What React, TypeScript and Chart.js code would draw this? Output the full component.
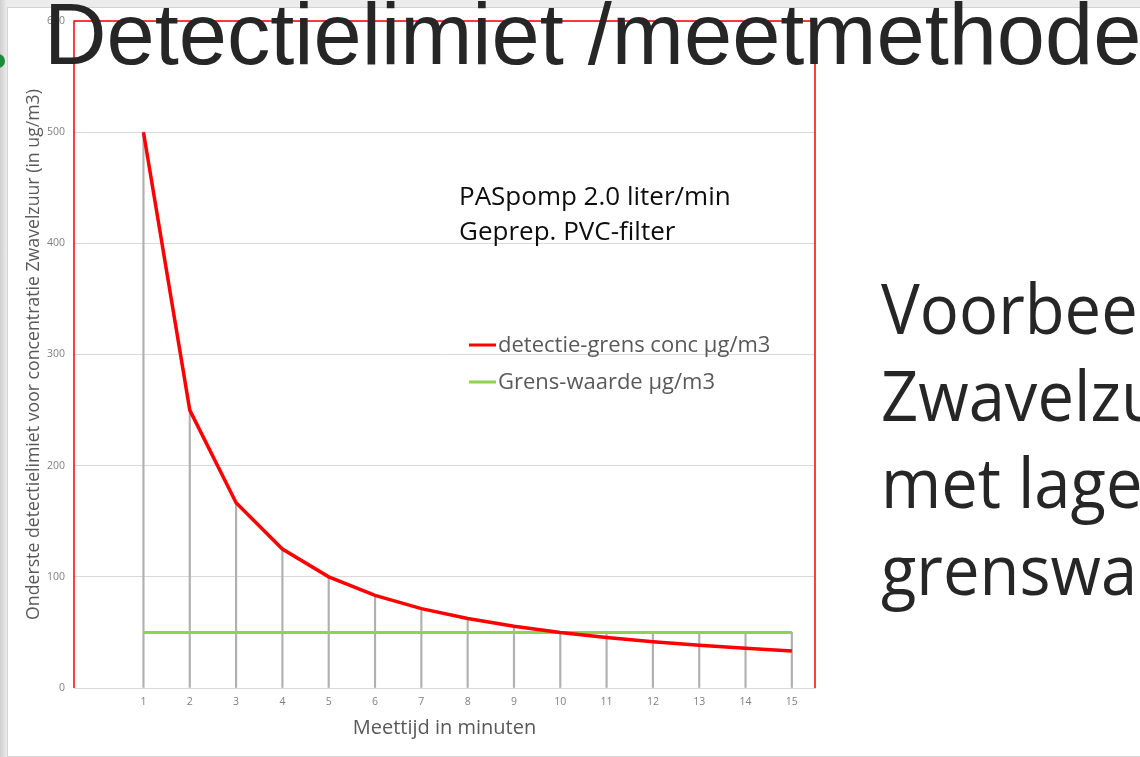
import React, { useEffect, useRef } from 'react';
import { Chart, registerables } from 'chart.js';

Chart.register(...registerables);

// ---- data ----
const minutes = [1, 2, 3, 4, 5, 6, 7, 8, 9, 10, 11, 12, 13, 14, 15];
const detectionLimit = [500, 250, 166.7, 125, 100, 83.3, 71.4, 62.5, 55.6, 50, 45.5, 41.7, 38.5, 35.7, 33.3];
const limitValue = [50, 50, 50, 50, 50, 50, 50, 50, 50, 50, 50, 50, 50, 50, 50];
const yTickValues = [0, 100, 200, 300, 400, 500, 600];
const seriesNames = ['detectie-grens conc µg/m3', 'Grens-waarde µg/m3'];
const chartNote = ['PASpomp 2.0 liter/min', 'Geprep. PVC-filter'];
const slideTitle = 'Detectielimiet /meetmethode';
const sideText = ['Voorbeeld', 'Zwavelzuur', 'met lage', 'grenswaarde'];
const xTitle = 'Meettijd in minuten';
const yTitle = 'Onderste detectielimiet voor concentratie Zwavelzuur (in ug/m3)';

const FONT = '"Open Sans", "Noto Sans", sans-serif';

const overlayPlugin = {
  id: 'overlay',
  afterDraw(chart: any) {
    const { ctx, chartArea: a } = chart;
    ctx.save();
    // red frame around plot area (left, top, right)
    ctx.strokeStyle = '#ff0000';
    ctx.lineWidth = 1.5;
    ctx.beginPath();
    ctx.moveTo(a.left, a.bottom);
    ctx.lineTo(a.left, a.top);
    ctx.lineTo(a.right, a.top);
    ctx.lineTo(a.right, a.bottom);
    ctx.stroke();

    // note text
    ctx.fillStyle = '#0d0d0d';
    ctx.font = `26px ${FONT}`;
    ctx.textBaseline = 'alphabetic';
    ctx.textAlign = 'left';
    chartNote.forEach((t, i) => ctx.fillText(t, a.left + 385, a.top + 184 + i * 35));

    // legend
    const lineSets = chart.data.datasets.filter((d: any) => d.type === 'line');
    ctx.font = `22px ${FONT}`;
    lineSets.forEach((d: any, i: number) => {
      const yMid = a.top + 324 + i * 37;
      ctx.strokeStyle = d.borderColor;
      ctx.lineWidth = 3;
      ctx.beginPath();
      ctx.moveTo(a.left + 395, yMid);
      ctx.lineTo(a.left + 422, yMid);
      ctx.stroke();
      ctx.fillStyle = '#595959';
      ctx.fillText(d.label, a.left + 424, yMid + 7);
    });
    ctx.restore();
  },
};

export default function App() {
  const canvasRef = useRef<HTMLCanvasElement | null>(null);

  useEffect(() => {
    const canvas = canvasRef.current;
    if (!canvas) return;
    const dropHeights = minutes.map((_, i) => Math.max(detectionLimit[i], limitValue[i]));
    const chart = new Chart(canvas, {
      type: 'line',
      data: {
        datasets: [
          {
            type: 'line',
            label: seriesNames[0],
            data: minutes.map((m, i) => ({ x: m, y: detectionLimit[i] })),
            borderColor: '#ff0000',
            backgroundColor: '#ff0000',
            borderWidth: 3.5,
            pointRadius: 0,
            tension: 0,
            order: 0,
          },
          {
            type: 'line',
            label: seriesNames[1],
            data: minutes.map((m, i) => ({ x: m, y: limitValue[i] })),
            borderColor: '#92d050',
            backgroundColor: '#92d050',
            borderWidth: 3,
            pointRadius: 0,
            tension: 0,
            order: 1,
          },
          {
            type: 'bar',
            label: 'drop',
            data: minutes.map((m, i) => ({ x: m, y: dropHeights[i] })),
            backgroundColor: '#b0b0b0',
            barThickness: 1.5,
            order: 2,
          } as any,
        ],
      },
      options: {
        responsive: false,
        animation: false,
        layout: { padding: { left: 19, top: 21, right: 325, bottom: 0 } },
        plugins: { legend: { display: false }, tooltip: { enabled: false } },
        scales: {
          x: {
            type: 'linear',
            min: -0.5,
            max: 15.5,
            offset: false,
            afterBuildTicks: (s: any) => {
              s.ticks = minutes.map((v) => ({ value: v }));
            },
            afterFit: (s: any) => {
              s.height = 69;
            },
            ticks: {
              autoSkip: false,
              maxRotation: 0,
              padding: 8,
              color: '#7f7f7f',
              font: { family: FONT, size: 10.5 },
              callback: (v: any) => String(v),
            },
            grid: { display: false, drawTicks: false },
            border: { display: true, color: '#d9d9d9', width: 1 },
            title: {
              display: true,
              text: xTitle,
              color: '#595959',
              font: { family: FONT, size: 20 },
              padding: { top: 4, bottom: 17 },
            },
          },
          y: {
            min: 0,
            max: 600,
            afterBuildTicks: (s: any) => {
              s.ticks = yTickValues.map((v) => ({ value: v }));
            },
            afterFit: (s: any) => {
              s.width = 55;
            },
            ticks: {
              padding: 9,
              color: '#7f7f7f',
              font: { family: FONT, size: 10.5 },
            },
            grid: { color: '#d9d9d9', lineWidth: 1, drawTicks: false },
            border: { display: false },
            title: {
              display: true,
              text: yTitle,
              color: '#595959',
              font: { family: FONT, size: 17.7 },
              padding: { top: 4, bottom: 4 },
            },
          },
        },
      },
      plugins: [overlayPlugin],
    } as any);
    return () => chart.destroy();
  }, []);

  return (
    <div
      style={{
        position: 'fixed',
        left: 0,
        top: 0,
        width: 1140,
        height: 757,
        overflow: 'hidden',
        background: 'linear-gradient(90deg, #cfcfcf 0px, #ececec 7px)',
      }}
    >
      <div
        style={{
          position: 'absolute',
          left: 7,
          top: 7,
          width: 1200,
          height: 750,
          boxSizing: 'border-box',
          background: '#ffffff',
          borderTop: '1px solid #d4d4d4',
          borderLeft: '1px solid #d4d4d4',
          borderBottom: '1px solid #d4d4d4',
        }}
      />
      <div
        style={{
          position: 'absolute',
          left: -9,
          top: 54,
          width: 14,
          height: 14,
          borderRadius: '50%',
          background: '#1e8a3c',
        }}
      />
      <canvas
        ref={canvasRef}
        width={1140}
        height={757}
        style={{ position: 'absolute', left: 0, top: 0, width: 1140, height: 757 }}
      />
      <div
        style={{
          position: 'absolute',
          left: 44,
          top: -9,
          fontFamily: '"Liberation Sans", Arial, sans-serif',
          fontSize: 86.6,
          lineHeight: '86.6px',
          color: '#262626',
          whiteSpace: 'nowrap',
        }}
      >
        {slideTitle}
      </div>
      <div
        style={{
          position: 'absolute',
          left: 881,
          top: 264,
          fontFamily: FONT,
          fontSize: 70,
          lineHeight: '87px',
          color: '#262626',
          whiteSpace: 'nowrap',
          transform: 'scaleX(0.93)',
          transformOrigin: 'left top',
        }}
      >
        {sideText.map((t, i) => (
          <div key={i}>{t}</div>
        ))}
      </div>
    </div>
  );
}
